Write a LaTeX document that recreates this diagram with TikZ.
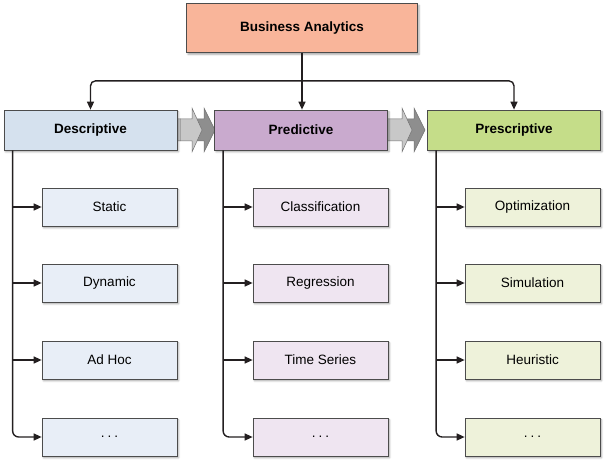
\documentclass[tikz,border=0pt]{standalone}
\usepackage{fontspec}
\setmainfont{Liberation Sans}
\usetikzlibrary{arrows.meta,shadows.blur,calc}
\definecolor{topc}{HTML}{F9B59A}
\definecolor{descc}{HTML}{D5E1EE}
\definecolor{predc}{HTML}{C9AACE}
\definecolor{prescc}{HTML}{C5DD89}
\definecolor{descl}{HTML}{E8EEF7}
\definecolor{predl}{HTML}{EFE5F1}
\definecolor{prescl}{HTML}{EEF2DA}
\definecolor{linec}{HTML}{231F20}
\definecolor{chevl}{HTML}{C8C8C8}
\definecolor{chevd}{HTML}{8E8E8E}
\newcommand{\mydots}{.\hspace{3pt}.\hspace{3pt}.}
\begin{document}
\begin{tikzpicture}[x=1pt,y=-1pt,
  boxbase/.style={draw=black!70, line width=0.7pt, inner sep=0pt, anchor=center,
    blur shadow={shadow xshift=1.5pt, shadow yshift=-1.8pt, shadow blur radius=1.8pt, shadow opacity=35}},
  hdr/.style={boxbase, minimum width=173pt, minimum height=40pt, font=\fontsize{13.5}{15}\selectfont\bfseries},
  topbox/.style={boxbase, minimum width=231pt, minimum height=49pt, font=\fontsize{13.5}{15}\selectfont\bfseries},
  child/.style={boxbase, minimum width=135pt, minimum height=38pt, font=\fontsize{13.5}{15}\selectfont},
  conn/.style={draw=linec, line width=1.4pt, -{Triangle[length=8pt,width=7pt]}},
  chev/.style={draw=black!55, line width=0.5pt}
]
\useasboundingbox (0,0) rectangle (609,465);

% chevrons between headers
\foreach \a in {177,387}{
  \draw[chev, fill=chevd] (\a+15,119) -- (\a+27,119) -- (\a+27,108) -- (\a+38,130) -- (\a+27,152) -- (\a+27,141) -- (\a+15,141) -- cycle;
  \draw[chev, fill=chevl] (\a,119) -- (\a+15,119) -- (\a+15,108) -- (\a+25,130) -- (\a+15,152) -- (\a+15,141) -- (\a,141) -- cycle;
}

\node[topbox, fill=topc] (ba) at (302,28) {Business Analytics};
\node[hdr, fill=descc] (desc) at (90.5,130) {Descriptive};
\node[hdr, fill=predc] (pred) at (301,130) {Predictive};
\node[hdr, fill=prescc] (presc) at (514,130) {Prescriptive};

\node[child, fill=descl] (d1) at (109.5,207) {Static};
\node[child, fill=descl] (d2) at (109.5,283) {Dynamic};
\node[child, fill=descl] (d3) at (109.5,360) {Ad Hoc};
\node[child, fill=descl] (d4) at (109.5,437) {\mydots};
\node[child, fill=predl] (p1) at (320.5,207) {Classification};
\node[child, fill=predl] (p2) at (320.5,283) {Regression};
\node[child, fill=predl] (p3) at (320.5,360) {Time Series};
\node[child, fill=predl] (p4) at (320.5,437) {\mydots};
\node[child, fill=prescl] (s1) at (532.5,207) {Optimization};
\node[child, fill=prescl] (s2) at (532.5,283) {Simulation};
\node[child, fill=prescl] (s3) at (532.5,360) {Heuristic};
\node[child, fill=prescl] (s4) at (532.5,437) {\mydots};

% top connectors
\coordinate (j) at ($(ba.south)+(0,28)$);
\draw[conn] (ba.south) -- (ba.south |- pred.north);
\draw[conn, rounded corners=5pt] (j) -| (desc.north);
\draw[conn, rounded corners=5pt] (j) -| (presc.north);

% spines
\coordinate (ds) at ($(desc.south west)+(9,0)$);
\coordinate (ps) at ($(pred.south west)+(9,0)$);
\coordinate (ss) at ($(presc.south west)+(9,0)$);
\foreach \s/\c in {ds/d,ps/p,ss/s}{
  \draw[conn, rounded corners=6pt] (\s) |- (\c4.west);
  \draw[conn] (\s |- \c1.west) -- (\c1.west);
  \draw[conn] (\s |- \c2.west) -- (\c2.west);
  \draw[conn] (\s |- \c3.west) -- (\c3.west);
}
\end{tikzpicture}
\end{document}
